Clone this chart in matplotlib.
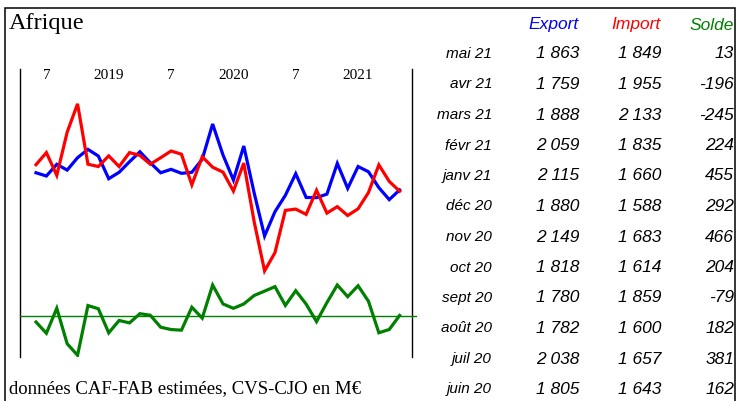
import numpy as np
import matplotlib.pyplot as plt
from matplotlib.patches import Rectangle

# valeurs mensuelles juin 2018 -> mai 2021, en M€
export = [2048, 2013, 2139, 2077, 2210, 2300, 2228, 1984, 2053, 2167, 2274, 2156,
          2048, 2085, 2042, 2053, 2193, 2573, 2239, 1970, 2336, 1830, 1367, 1629,
          1805, 2038, 1782, 1780, 1818, 2149, 1880, 2115, 2059, 1888, 1759, 1863]
imports = [2135, 2265, 2020, 2485, 2790, 2140, 2115, 2230, 2115, 2265, 2235, 2140,
           2210, 2282, 2248, 1918, 2220, 2108, 2055, 1851, 2152, 1520, 992, 1188,
           1643, 1657, 1600, 1859, 1614, 1683, 1588, 1660, 1835, 2133, 1955, 1849]
solde = [-85, -252, 120, -408, -580, 160, 113, -246, -62, -98, 39, 16,
         -162, -197, -206, 135, -27, 465, 184, 119, 184, 310, 375, 441,
         162, 381, 182, -79, 204, 466, 292, 455, 224, -245, -196, 13]

tick_pos = [1, 7, 13, 19, 25, 31]
tick_labels = ['7', '2019', '7', '2020', '7', '2021']

# tableau : 12 derniers mois, du plus récent au plus ancien
mois_tab = ['mai 21', 'avr 21', 'mars 21', 'févr 21', 'janv 21', 'déc 20',
            'nov 20', 'oct 20', 'sept 20', 'août 20', 'juil 20', 'juin 20']

W, H = 741, 401
fig = plt.figure(figsize=(W / 100, H / 100), dpi=100)

def fx(px):
    return px / W

def fy(py):
    return 1 - py / H

ax = fig.add_axes([fx(20), fy(356.7), fx(392), (356.7 - 69) / H])
x = np.arange(len(export))
ax.plot(x, export, color='#0000ff', lw=2.3, solid_joinstyle='miter')
ax.plot(x, imports, color='#ff0000', lw=2.3, solid_joinstyle='miter')
ax.set_xlim(-1.54, 36.19)
ax.set_ylim(68, 3165)
ax.set_yticks([])
ax.set_xticks(tick_pos, tick_labels)
ax.tick_params(axis='x', bottom=False, top=False, labelbottom=False, labeltop=True,
               pad=-13, labelsize=11)
for lab in ax.get_xticklabels():
    lab.set_fontfamily('Liberation Serif')
for s in ['top', 'bottom']:
    ax.spines[s].set_visible(False)
for s in ['left', 'right']:
    ax.spines[s].set_linewidth(1.0)
ax.patch.set_alpha(0)

ax2 = ax.twinx()
ax2.plot(x, solde, color='#008000', lw=2.3, solid_joinstyle='miter')
ax2.axhline(0, color='#008000', lw=1.0, xmin=0, xmax=1.01, clip_on=False)
ax2.set_ylim(-601, 3680)
ax2.set_yticks([])
for s in ax2.spines.values():
    s.set_visible(False)

# cadre
fig.add_artist(Rectangle((fx(5), -0.02), fx(730), fy(8) + 0.02, transform=fig.transFigure,
                         fill=False, lw=1.1, color='black'))

fig.text(fx(9), fy(23), 'Afrique', family='Liberation Serif', fontsize=17.5, va='center')
fig.text(fx(9), fy(389), 'données CAF-FAB estimées, CVS-CJO en M€',
         family='Liberation Serif', fontsize=13.5, va='center')

# tableau
sans = 'Liberation Sans'
col_x = [579, 661, 734]
heads = ['Export', 'Import', 'Solde']
cols = ['#0000ff', '#ff0000', '#008000']
for cx, h, c in zip(col_x, heads, cols):
    fig.text(fx(cx), fy(25), h, color=c, family=sans, style='italic', fontsize=12.5,
             ha='right', va='center')

def fmt(v):
    return f'{v:,}'.replace(',', ' ')

n = len(mois_tab)
for k in range(n):
    i = len(export) - 1 - k
    yy = fy(54 + k * 30.5)
    fig.text(fx(492), yy, mois_tab[k], family=sans, style='italic', fontsize=11,
             ha='right', va='center')
    for cx, v in zip(col_x, [export[i], imports[i], solde[i]]):
        fig.text(fx(cx), yy, fmt(v), family=sans, style='italic', fontsize=12.5,
                 ha='right', va='center')

fig.savefig('out.png', dpi=100)
